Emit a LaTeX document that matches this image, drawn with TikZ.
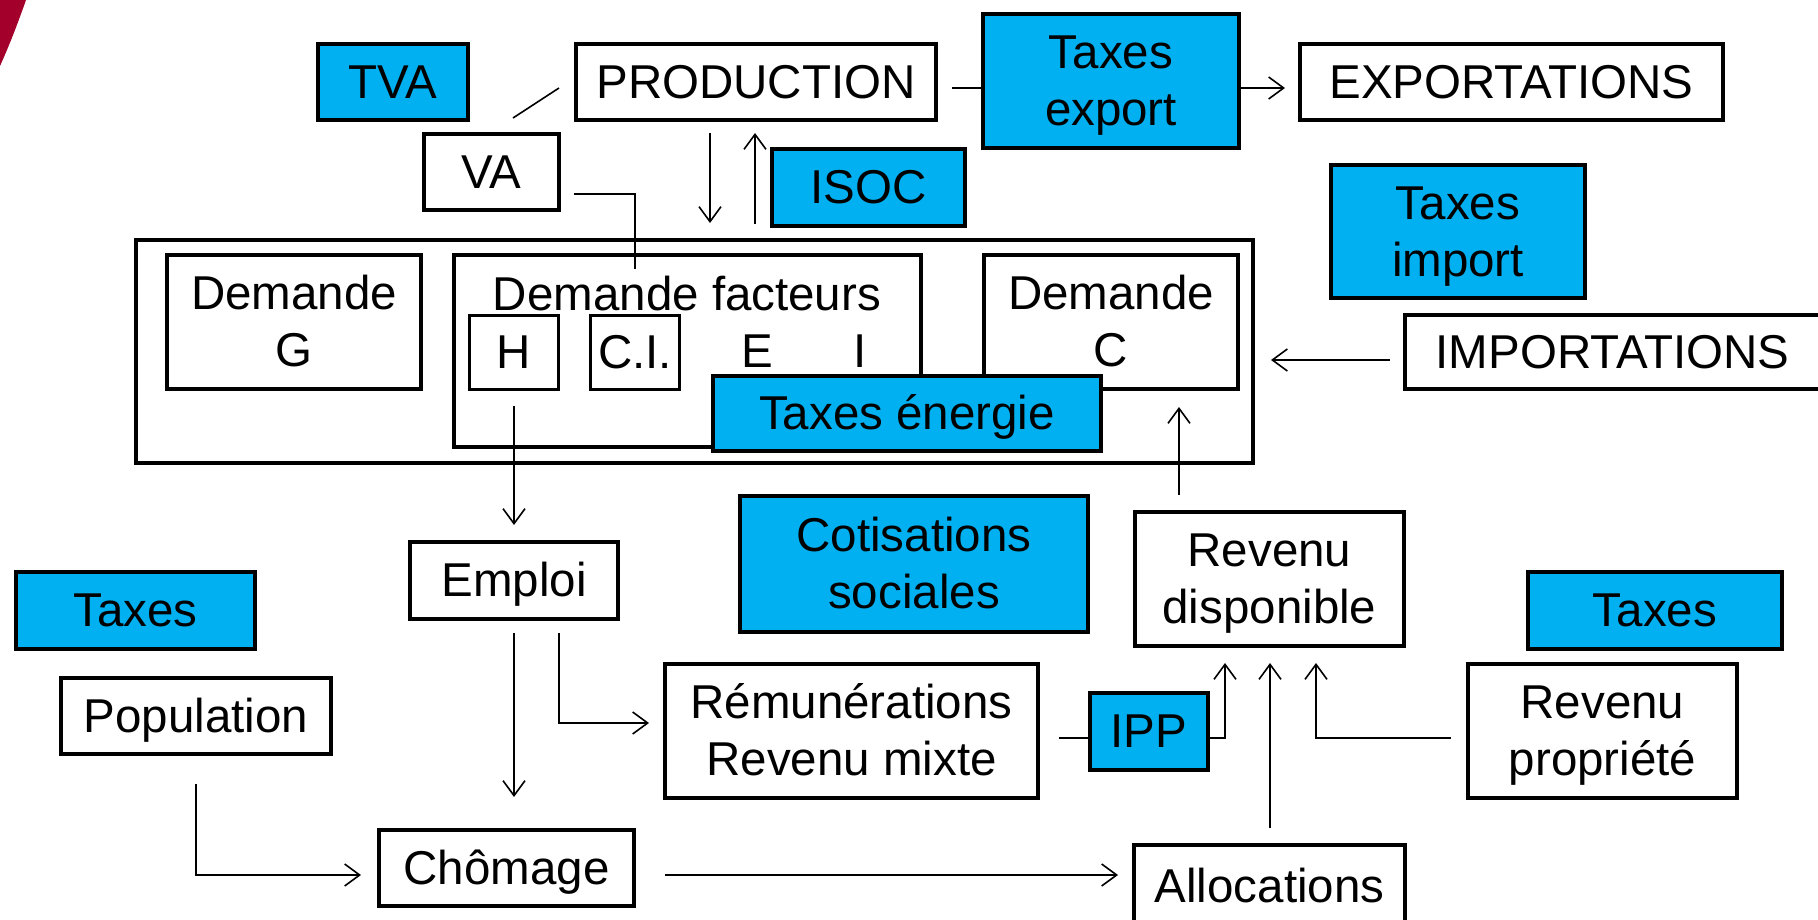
\documentclass[tikz,border=0pt]{standalone}
\usepackage{fontspec}
\setmainfont{Liberation Sans}
\usetikzlibrary{arrows.meta}
\definecolor{pblue}{HTML}{00B0F0}
\definecolor{sred}{HTML}{A3002B}
\newcommand\ls{\rule[-0.212em]{0pt}{1.117em}}
\begin{document}
\begin{tikzpicture}[x=1pt,y=-1pt,
  box/.style={draw=black, line width=4.2pt, fill=white, inner sep=0pt, align=center,
    font=\fontsize{47.5}{57}\selectfont},
  bbox/.style={box, fill=pblue},
  tbox/.style={box, line width=2.6pt},
  lbl/.style={inner sep=0pt, font=\fontsize{47.5}{57}\selectfont},
  conn/.style={line width=1.6pt},
  arr/.style={conn, -{Straight Barb[length=15pt,width=22pt,line width=1.6pt]}}
]
\useasboundingbox (0,0) rectangle (1818,920);
\clip (0,0) rectangle (1818,920);
\fill[white] (0,0) rectangle (1818,920);
% decorative red corner
\fill[sred] (0,0) -- (26,0) .. controls (19,20) and (10,44) .. (0,66) -- cycle;

% top row
\node[bbox, minimum width=150pt, minimum height=76pt] (tva) at (393,82) {\ls TVA};
\node[box, minimum width=360pt, minimum height=76pt] (prod) at (756,82) {\ls PRODUCTION};
\node[bbox, minimum width=256pt, minimum height=134pt] (taxexp) at (1111,81) {\ls Taxes\\\ls export};
\node[box, minimum width=423pt, minimum height=76pt] (expo) at (1511.5,82) {\ls EXPORTATIONS};
\node[box, minimum width=135pt, minimum height=76pt] (va) at (491.5,172) {\ls VA};
\node[bbox, minimum width=193pt, minimum height=77pt] (isoc) at (868.5,187.5) {\ls ISOC};
\node[bbox, minimum width=254pt, minimum height=133pt] (taximp) at (1458,231.5) {\ls Taxes\\\ls import};

% demand block
\node[box, minimum width=1117pt, minimum height=223pt] (outer) at (694.5,351.5) {};
\node[box, minimum width=254pt, minimum height=134pt] (demg) at (294,322) {\ls Demande\\\ls G};
\node[box, minimum width=467pt, minimum height=192pt] (demf) at (687.5,351) {};
\node[lbl] (demflbl) at (687,294) {\ls Demande facteurs};
\node[tbox, minimum width=89.5pt, minimum height=74.5pt] (h) at (514,352.5) {\ls H};
\node[tbox, minimum width=89.5pt, minimum height=74.5pt] (ci) at (635,352.5) {\ls C.I.};
\node[lbl] (e) at (757,351) {\ls E};
\node[lbl] (i) at (860,351) {\ls I};
\node[box, minimum width=254pt, minimum height=134pt] (demc) at (1111,322) {\ls Demande\\\ls C};
\node[bbox, minimum width=388pt, minimum height=75pt] (taxen) at (907,413.5) {\ls Taxes énergie};
\node[box, minimum width=415pt, minimum height=74pt] (impo) at (1612.5,352) {\ls IMPORTATIONS};

% lower part
\node[bbox, minimum width=239pt, minimum height=77pt] (taxl) at (135.5,610.5) {\ls Taxes};
\node[box, minimum width=208pt, minimum height=77pt] (emploi) at (514,580.5) {\ls Emploi};
\node[bbox, minimum width=348pt, minimum height=136pt] (cotis) at (914,564) {\ls Cotisations\\\ls sociales};
\node[box, minimum width=269pt, minimum height=134pt] (rd) at (1269.5,579) {\ls Revenu\\\ls disponible};
\node[bbox, minimum width=254pt, minimum height=77pt] (taxr) at (1655,610.5) {\ls Taxes};
\node[box, minimum width=270pt, minimum height=76pt] (pop) at (196,716) {\ls Population};
\node[box, minimum width=373pt, minimum height=134pt] (remu) at (851.5,731) {\ls Rémunérations\\\ls Revenu mixte};
\node[bbox, minimum width=118pt, minimum height=77pt] (ipp) at (1149,731.5) {\ls IPP};
\node[box, minimum width=269pt, minimum height=134pt] (rp) at (1602.5,731) {\ls Revenu\\\ls propriété};
\node[box, minimum width=255pt, minimum height=76pt] (chom) at (506.5,868) {\ls Chômage};
\node[box, minimum width=271pt, minimum height=82pt] (alloc) at (1269.5,886) {\ls Allocations};

% connector end points
\coordinate (vaA) at (513,118);
\coordinate (vaB) at (559,88);
\coordinate (vfA) at (574,194);
\coordinate (vfB) at (635,194);
\coordinate (vfC) at (635,269);
\coordinate (pdA) at (710,133);
\coordinate (pdB) at (710,223);
\coordinate (puA) at (755,224);
\coordinate (puB) at (755,133);
\coordinate (peA) at (952,88);
\coordinate (exA) at (1285,88);
\coordinate (imA) at (1390,360);
\coordinate (imB) at (1271,360);
\coordinate (rdA) at (1179,495);
\coordinate (rdB) at (1179,407);
\coordinate (heA) at (514,406);
\coordinate (heB) at (514,525);
\coordinate (ecA) at (514,633);
\coordinate (ecB) at (514,797);
\coordinate (erA) at (559,633);
\coordinate (erB) at (559,723);
\coordinate (erC) at (649,723);
\coordinate (pcA) at (196,784);
\coordinate (pcB) at (196,875);
\coordinate (pcC) at (361,875);
\coordinate (caA) at (665,875);
\coordinate (caB) at (1118,875);
\coordinate (riA) at (1059,738);
\coordinate (irA) at (1225,738);
\coordinate (irB) at (1225,663);
\coordinate (arA) at (1270,828);
\coordinate (arB) at (1270,663);
\coordinate (prA) at (1451,738);
\coordinate (prB) at (1316,738);
\coordinate (prC) at (1316,663);

% connectors
\draw[conn] (vaA) -- (vaB);
\draw[conn] (vfA) -- (vfB) -- (vfC);
\draw[arr] (pdA) -- (pdB);
\draw[arr] (puA) -- (puB);
\draw[conn] (peA) -- (peA -| taxexp.west);
\draw[arr] (taxexp.east |- exA) -- (exA);
\draw[arr] (imA) -- (imB);
\draw[arr] (rdA) -- (rdB);
\draw[arr] (heA) -- (heB);
\draw[arr] (ecA) -- (ecB);
\draw[arr] (erA) -- (erB) -- (erC);
\draw[arr] (pcA) -- (pcB) -- (pcC);
\draw[arr] (caA) -- (caB);
\draw[conn] (riA) -- (riA -| ipp.west);
\draw[arr] (ipp.east |- irA) -- (irA) -- (irB);
\draw[arr] (arA) -- (arB);
\draw[arr] (prA) -- (prB) -- (prC);
\end{tikzpicture}
\end{document}
